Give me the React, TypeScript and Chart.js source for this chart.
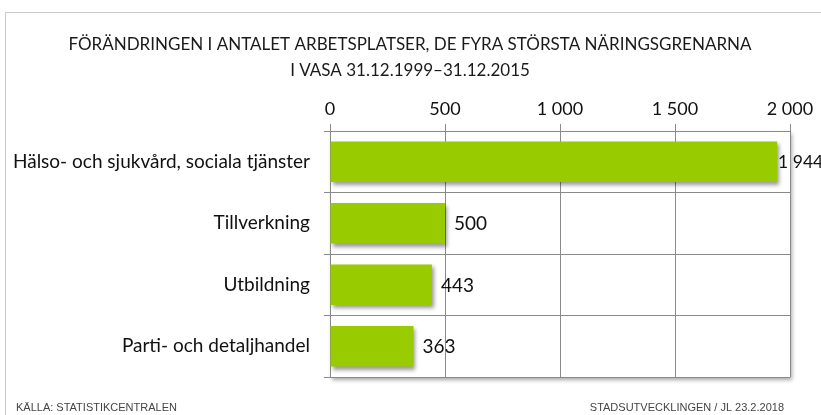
import React, { useEffect, useRef } from "react";
import { Chart, registerables } from "chart.js";

Chart.register(...registerables);

const categories = [
  "Hälso- och sjukvård, sociala tjänster",
  "Tillverkning",
  "Utbildning",
  "Parti- och detaljhandel",
];
const values = [1944, 500, 443, 363];
const xTicks = [0, 500, 1000, 1500, 2000];
const titleLines = [
  "FÖRÄNDRINGEN I ANTALET ARBETSPLATSER, DE FYRA STÖRSTA NÄRINGSGRENARNA",
  "I VASA 31.12.1999–31.12.2015",
];
const sourceText = "KÄLLA: STATISTIKCENTRALEN";
const creditText = "STADSUTVECKLINGEN / JL 23.2.2018";

const fmt = (v: number) =>
  String(v).replace(/\B(?=(\d{3})+(?!\d))/g, " ");

const FONT = "Lato, 'Open Sans', sans-serif";
const SMALL = "'Liberation Sans', Arial, sans-serif";

export default function App() {
  const ref = useRef<HTMLCanvasElement | null>(null);
  useEffect(() => {
    document.body.style.margin = "0";
    const canvas = ref.current!;
    const decor = {
      id: "decor",
      beforeDraw(chart: any) {
        const { ctx, chartArea: a } = chart;
        ctx.save();
        ctx.fillStyle = "#fff";
        ctx.fillRect(0, 0, chart.width, chart.height);
        ctx.strokeStyle = "#c8c8c8";
        ctx.lineWidth = 1;
        ctx.beginPath();
        ctx.moveTo(5.5, chart.height);
        ctx.lineTo(5.5, 12.5);
        ctx.lineTo(chart.width, 12.5);
        ctx.stroke();
        ctx.shadowColor = "rgba(0,0,0,0.35)";
        ctx.shadowBlur = 4;
        ctx.shadowOffsetX = 2;
        ctx.shadowOffsetY = 3;
        ctx.fillStyle = "#fff";
        ctx.fillRect(a.left, a.top, a.right - a.left, a.bottom - a.top);
        ctx.restore();
        ctx.save();
        ctx.fillStyle = "#1a1a1a";
        ctx.font = `17px ${FONT}`;
        ctx.textAlign = "center";
        ctx.textBaseline = "middle";
        ctx.fillText(titleLines[0], 410, 45);
        ctx.fillText(titleLines[1], 410, 71);
        ctx.font = `11px ${SMALL}`;
        ctx.fillStyle = "#444";
        ctx.textAlign = "left";
        ctx.fillText(sourceText, 16, 408);
        ctx.textAlign = "right";
        ctx.fillText(creditText, 784, 408);
        ctx.restore();
      },
      beforeDatasetsDraw(chart: any) {
        const ctx = chart.ctx;
        ctx.save();
        ctx.shadowColor = "rgba(0,0,0,0.4)";
        ctx.shadowBlur = 4;
        ctx.shadowOffsetX = 2;
        ctx.shadowOffsetY = 3;
      },
      afterDatasetsDraw(chart: any) {
        const ctx = chart.ctx;
        ctx.restore();
        ctx.save();
        ctx.fillStyle = "#111";
        ctx.textBaseline = "middle";
        ctx.textAlign = "left";
        const meta = chart.getDatasetMeta(0);
        meta.data.forEach((bar: any, i: number) => {
          const t = fmt(values[i]);
          ctx.font = `19px ${FONT}`;
          const w = ctx.measureText(t).width;
          let x = bar.x + 9;
          if (x + w > chart.width) {
            x = bar.x + 1;
            ctx.font = `17.5px ${FONT}`;
          }
          ctx.fillText(t, x, bar.y + 1);
        });
        ctx.restore();
      },
    };
    const chart = new Chart(canvas, {
      type: "bar",
      data: {
        labels: categories,
        datasets: [
          {
            data: values,
            backgroundColor: "#99cc00",
            borderWidth: 0,
            barPercentage: 0.66,
            categoryPercentage: 1,
          },
        ],
      },
      options: {
        indexAxis: "y",
        animation: false,
        responsive: false,
        maintainAspectRatio: false,
        layout: { padding: { left: 0, right: 31, top: 91, bottom: 38 } },
        plugins: {
          legend: { display: false },
          title: { display: false },
          tooltip: { enabled: false },
        },
        scales: {
          x: {
            position: "top",
            min: 0,
            max: 2000,
            afterBuildTicks: (s: any) => {
              s.ticks = xTicks.map((v) => ({ value: v }));
            },
            afterFit: (s: any) => {
              s.height = 40;
            },
            ticks: {
              color: "#111",
              font: { family: FONT, size: 18 },
              padding: 4,
              callback: (v: any) => fmt(Number(v)),
            },
            grid: {
              color: "#8a8a8a",
              lineWidth: 1,
              tickLength: 7,
              drawTicks: true,
            },
            border: { color: "#8a8a8a" },
          },
          y: {
            afterFit: (s: any) => {
              s.width = 330;
            },
            ticks: {
              color: "#111",
              font: { family: FONT, size: 19 },
              padding: 14,
            },
            grid: {
              color: "#8a8a8a",
              lineWidth: 1,
              offset: true,
              tickLength: 6,
            },
            border: { color: "#8a8a8a" },
          },
        },
      },
      plugins: [decor],
    });
    return () => chart.destroy();
  }, []);
  return (
    <div style={{ position: "fixed", left: 0, top: 0 }}>
      <canvas ref={ref} width={821} height={415} style={{ display: "block" }} />
    </div>
  );
}
